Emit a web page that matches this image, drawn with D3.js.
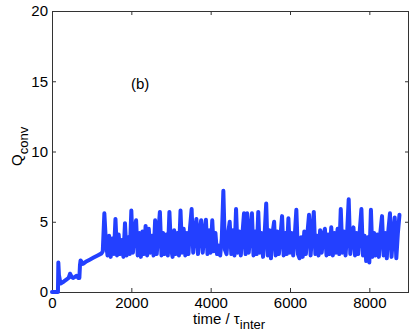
<!DOCTYPE html>
<html>
<head>
<meta charset="utf-8">
<script src="https://cdn.jsdelivr.net/npm/d3@7"></script>
<style>
  html, body { margin: 0; padding: 0; background: #fff; }
  svg { display: block; font-family: "Liberation Sans", Arial, Helvetica, sans-serif; }
</style>
</head>
<body>
<svg id="chart" width="415" height="333"></svg>
<script>
// ---- data ----
const xTicks = [0, 2000, 4000, 6000, 8000];
const yTicks = [0, 5, 10, 15, 20];
const xDomain = [0, 9000];
const yDomain = [0, 20];

// early (start-up) part: explicit times and values
const earlyTime = [0, 150, 160, 175, 215, 300, 370, 420, 454, 500, 537, 590, 622, 660, 690, 705, 720, 780, 850, 950, 1050, 1150, 1250];
const earlyQ    = [0, 0, 2.1, 1.2, 0.6, 0.75, 0.9, 1.0, 1.3, 1.05, 1.0, 1.1, 1.15, 1.0, 1.0, 1.9, 2.25, 2.0, 2.15, 2.3, 2.45, 2.6, 2.75];

// fluctuating part: sampled every 40 time units from t = 1280
const noisyStart = 1280;
const noisyStep = 40;
const noisyQ = [
  2.9,5.6,3.5,2.6,4.0,2.5,3.8,2.7,5.2,2.6,
  4.1,2.7,3.7,2.5,4.9,2.6,3.9,2.7,5.8,2.8,
  4.4,5.1,2.6,4.2,2.5,4.3,2.7,4.7,2.6,4.5,
  2.8,4.0,2.6,5.1,2.7,4.2,5.7,2.6,4.2,2.7,
  4.1,2.6,5.7,3.1,2.5,4.4,2.7,4.2,2.6,5.8,
  2.8,4.5,2.6,4.2,2.7,4.6,5.9,2.8,4.2,5.2,
  2.7,4.3,5.1,2.8,4.2,5.15,2.7,4.4,2.8,5.1,
  2.9,4.2,2.7,3.3,2.6,3.8,7.2,3.0,2.7,4.2,
  5.0,2.7,4.4,2.6,5.9,2.8,4.3,2.6,4.1,5.6,
  2.7,5.6,2.8,4.2,5.6,2.6,4.3,2.7,5.7,2.8,
  4.2,2.5,4.1,6.3,2.6,4.4,2.4,4.2,5.0,2.6,
  4.3,2.7,4.0,5.4,2.6,4.2,2.7,5.25,2.8,4.2,
  2.6,4.0,5.85,2.7,2.4,3.9,2.5,4.3,2.7,4.2,
  5.5,2.6,4.2,5.7,2.7,4.0,2.6,4.4,2.8,4.0,
  4.5,2.6,4.1,2.7,4.6,2.6,4.2,2.8,4.5,2.7,
  5.9,2.8,4.3,2.6,4.2,6.6,2.7,4.1,4.6,2.6,
  4.2,2.7,4.4,5.9,2.6,4.0,2.2,3.9,2.1,5.85,
  2.5,4.2,2.6,4.1,2.5,4.3,5.4,2.6,4.2,2.4,
  4.4,5.6,2.5,4.1,5.3,2.4,4.2,5.5
];

const annotation = "(b)";

// ---- build ----
const series = earlyTime.map((t, i) => ({ t, q: earlyQ[i] }))
  .concat(noisyQ.map((q, i) => ({ t: noisyStart + i * noisyStep, q })));

const L = 52, R = 409, T = 11, B = 292;
const x = d3.scaleLinear().domain(xDomain).range([L, R]);
const y = d3.scaleLinear().domain(yDomain).range([B, T]);

const svg = d3.select("#chart");
const axisColor = "#333";
const fs = 15;

// axes
const gx = svg.append("g").attr("transform", `translate(0,${B})`)
  .call(d3.axisBottom(x).tickValues(xTicks).tickSizeInner(-4).tickSizeOuter(0).tickPadding(5).tickFormat(d3.format("d")));
const gxTop = svg.append("g").attr("transform", `translate(0,${T})`)
  .call(d3.axisTop(x).tickValues(xTicks).tickSizeInner(-4).tickSizeOuter(0).tickFormat(""));
const gy = svg.append("g").attr("transform", `translate(${L},0)`)
  .call(d3.axisLeft(y).tickValues(yTicks).tickSizeInner(-4).tickSizeOuter(0).tickPadding(4));
const gyR = svg.append("g").attr("transform", `translate(${R},0)`)
  .call(d3.axisRight(y).tickValues(yTicks).tickSizeInner(-4).tickSizeOuter(0).tickFormat(""));

[gx, gxTop, gy, gyR].forEach(g => {
  g.select(".domain").remove();
  g.selectAll("line").attr("stroke", axisColor);
  g.selectAll("text").attr("fill", "#000").style("font-size", fs + "px")
    .style("font-family", '"Liberation Sans", Arial, sans-serif');
});
gx.selectAll("text").attr("dy", "0.71em");

// box
svg.append("rect")
  .attr("x", L + 0.5).attr("y", T + 0.5)
  .attr("width", R - L - 1).attr("height", B - T)
  .attr("fill", "none").attr("stroke", axisColor).attr("stroke-width", 1);

// data line
const line = d3.line().x(d => x(d.t)).y(d => y(d.q));
svg.append("path")
  .datum(series)
  .attr("d", line)
  .attr("fill", "none")
  .attr("stroke", "#2340ff")
  .attr("stroke-width", 4)
  .attr("stroke-linejoin", "round")
  .attr("stroke-linecap", "round");

// annotation
svg.append("text").attr("x", 131).attr("y", 89).style("font-size", fs + "px").text(annotation);

// x label
const xl = svg.append("text").attr("x", 193).attr("y", 324).style("font-size", fs + "px");
xl.append("tspan").text("time / \u03c4");
xl.append("tspan").attr("dy", 5).style("font-size", "13px").text("inter");

// y label
const yl = svg.append("text")
  .attr("transform", "translate(22,166) rotate(-90)")
  .style("font-size", fs + "px");
yl.append("tspan").text("Q");
yl.append("tspan").attr("dy", 6).style("font-size", "13px").text("conv");
</script>
</body>
</html>
